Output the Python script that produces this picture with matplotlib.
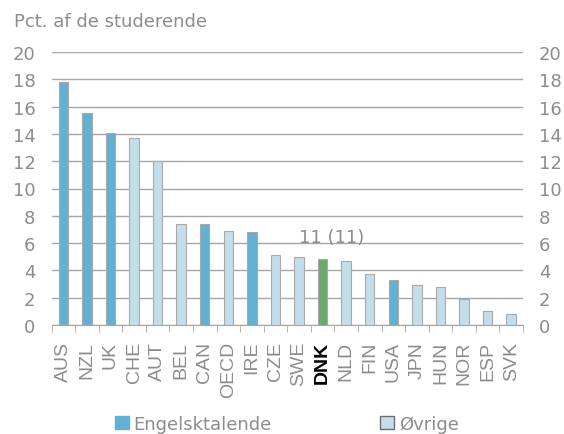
import matplotlib
matplotlib.use("Agg")
import matplotlib.pyplot as plt
from matplotlib.patches import Patch
import numpy as np

plt.rcParams['font.family'] = ['DejaVu Sans']

categories = ["AUS", "NZL", "UK", "CHE", "AUT", "BEL", "CAN", "OECD", "IRE", "CZE",
              "SWE", "DNK", "NLD", "FIN", "USA", "JPN", "HUN", "NOR", "ESP", "SVK"]
values = [17.8, 15.5, 14.1, 13.7, 12.0, 7.4, 7.4, 6.9, 6.8, 5.1,
          5.0, 4.8, 4.7, 3.7, 3.3, 2.9, 2.8, 1.9, 1.0, 0.8]
english = ["AUS", "NZL", "UK", "CAN", "IRE", "USA"]
highlight = "DNK"
annotation = "11 (11)"
yticks = [0, 2, 4, 6, 8, 10, 12, 14, 16, 18, 20]

c_eng = "#62B1D3"
c_oth = "#C4DDEA"
c_dnk = "#6BA86E"
grey = "#8C8C8C"

colors = [c_dnk if c == highlight else (c_eng if c in english else c_oth) for c in categories]

fig = plt.figure(figsize=(5.64, 4.35), dpi=100)
ax = fig.add_axes([51.5/564, 1-326/435, 471.5/564, 273/435])
x = np.arange(len(categories))
ax.bar(x, values, width=0.40, color=colors, edgecolor="#A9A9A9", linewidth=0.8, zorder=3)
ax.set_xlim(-0.5, len(categories) - 0.5)
ax.set_ylim(0, 20)
ax.set_yticks(yticks)
ax.grid(axis='y', color="#A6A6A6", linewidth=1.0, zorder=0)
for s in ["top", "right", "left"]:
    ax.spines[s].set_visible(False)
ax.spines["bottom"].set_color("#A6A6A6")
ax.tick_params(axis='y', which='both', left=False, right=False, length=0, labelsize=13,
               colors=grey, labelright=True, pad=11.5)
ax.set_xticks(np.arange(len(categories) + 1) - 0.5, minor=True)
ax.set_xticks(x)
ax.set_xticklabels(categories, rotation=90, color=grey, family='Liberation Sans', fontsize=14)
ax.tick_params(axis='x', which='major', length=0, pad=11.5)
ax.tick_params(axis='x', which='minor', length=5, color="#A6A6A6", direction='out')
for lbl in ax.get_xticklabels():
    if lbl.get_text() == highlight:
        lbl.set_color("black")
        lbl.set_fontweight("bold")
i = categories.index(highlight)
ax.text(i + 0.38, 6.08, annotation, ha='center', va='baseline', fontsize=13, color=grey)

fig.text(14/564, 1-22/435, "Pct. af de studerende", fontsize=13, color=grey,
         ha='left', va='center')

handles = [Patch(facecolor=c_eng, edgecolor=c_eng, label="Engelsktalende"),
           Patch(facecolor=c_oth, edgecolor="#6E6E6E", label="Øvrige")]
leg = fig.legend(handles=handles, loc='center left', bbox_to_anchor=(115/564, 1-425/435),
                 ncol=2, frameon=False, fontsize=13, handlelength=0.78, handleheight=0.72,
                 handletextpad=0.25, columnspacing=6.0, borderaxespad=0, borderpad=0)
for t in leg.get_texts():
    t.set_color(grey)

fig.savefig("out.png", dpi=100)
